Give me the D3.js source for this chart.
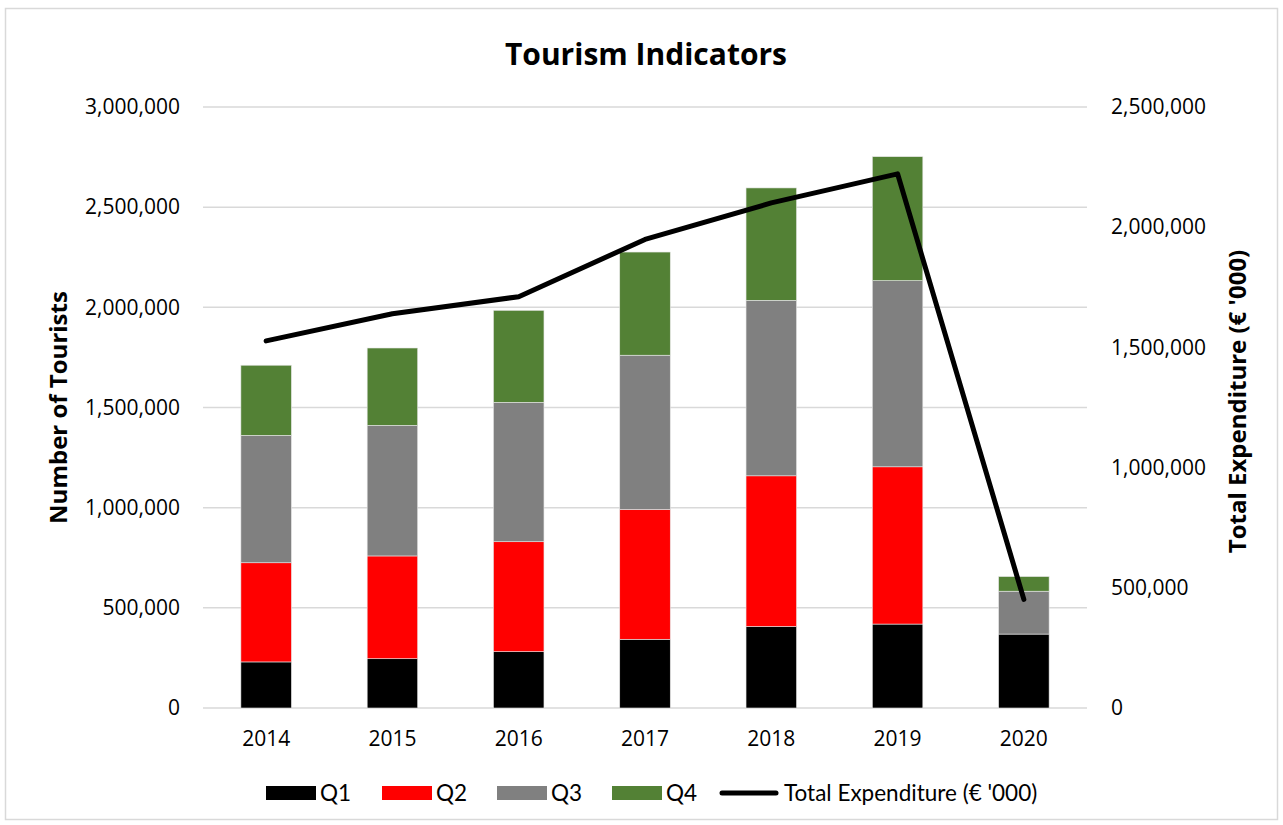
<!DOCTYPE html>
<html>
<head>
<meta charset="utf-8">
<script src="https://cdn.jsdelivr.net/npm/d3@7"></script>
<style>
  html, body { margin: 0; padding: 0; background: #fff; }
  svg { display: block; }
  text { font-family: "Open Sans", "DejaVu Sans", sans-serif; fill: #000; }
</style>
</head>
<body>
<svg id="chart" width="1283" height="825"></svg>
<script>
const years = ["2014", "2015", "2016", "2017", "2018", "2019", "2020"];
const q1 = [230000, 246000, 281000, 343000, 407000, 419000, 369000];
const q2 = [495000, 513000, 549000, 648000, 752000, 785000, 0];
const q3 = [636000, 652000, 696000, 770000, 876000, 929000, 214000];
const q4 = [350000, 386000, 459000, 515000, 561000, 619000, 73000];
const expenditure = [1527000, 1640000, 1711000, 1949000, 2101000, 2222000, 452000];
const leftTicks = [0, 500000, 1000000, 1500000, 2000000, 2500000, 3000000];
const rightTicks = [0, 500000, 1000000, 1500000, 2000000, 2500000];
const seriesNames = ["Q1", "Q2", "Q3", "Q4"];
const seriesColors = ["#000000", "#ff0000", "#808080", "#538135"];
const lineName = "Total Expenditure (€ '000)";

const svg = d3.select("#chart");
const plot = { left: 203, right: 1087, top: 107, bottom: 708 };

// chart border
svg.append("rect")
  .attr("x", 5.5).attr("y", 8.5)
  .attr("width", 1272).attr("height", 811)
  .attr("fill", "#fff").attr("stroke", "#d9d9d9").attr("stroke-width", 1.5);

const x = d3.scaleBand().domain(years)
  .range([plot.left, plot.right]).paddingInner(0.6).paddingOuter(0.3);
const yL = d3.scaleLinear().domain([0, 3000000]).range([plot.bottom, plot.top]);
const yR = d3.scaleLinear().domain([0, 2500000]).range([plot.bottom, plot.top]);
const fmt = d3.format(",");

// gridlines
svg.append("g").selectAll("line").data(leftTicks).join("line")
  .attr("x1", plot.left).attr("x2", plot.right)
  .attr("y1", d => yL(d)).attr("y2", d => yL(d))
  .attr("stroke", "#d9d9d9").attr("stroke-width", 1.5);

const tickFont = "21px";

// left axis labels
const axL = svg.append("g").attr("transform", `translate(${plot.left - 23},0)`)
  .call(d3.axisLeft(yL).tickValues(leftTicks).tickFormat(fmt).tickSize(0).tickPadding(0));
axL.select(".domain").remove();
axL.selectAll("text").style("font-size", tickFont).style("font-family", "Open Sans, sans-serif").attr("fill", "#000");

// right axis labels
const axR = svg.append("g").attr("transform", `translate(${plot.right + 24},0)`)
  .call(d3.axisRight(yR).tickValues(rightTicks).tickFormat(fmt).tickSize(0).tickPadding(0));
axR.select(".domain").remove();
axR.selectAll("text").style("font-size", tickFont).style("font-family", "Open Sans, sans-serif").attr("fill", "#000");

// x axis labels
const axX = svg.append("g").attr("transform", `translate(0,${plot.bottom + 23})`)
  .call(d3.axisBottom(x).tickSize(0).tickPadding(0));
axX.select(".domain").remove();
axX.selectAll("text").style("font-size", tickFont).style("font-family", "Open Sans, sans-serif").attr("fill", "#000");

// stacked bars
const table = years.map((yr, i) => ({ year: yr, Q1: q1[i], Q2: q2[i], Q3: q3[i], Q4: q4[i] }));
const stack = d3.stack().keys(seriesNames)(table);
svg.append("g").selectAll("g").data(stack).join("g")
  .attr("fill", (d, i) => seriesColors[i])
  .selectAll("rect").data(d => d).join("rect")
  .attr("x", d => x(d.data.year))
  .attr("width", x.bandwidth())
  .attr("y", d => yL(d[1]))
  .attr("height", d => Math.max(0, yL(d[0]) - yL(d[1])))
  .attr("stroke", "#e6e6e6").attr("stroke-width", 0.6);

// expenditure line
const line = d3.line()
  .x((d, i) => x(years[i]) + x.bandwidth() / 2)
  .y(d => yR(d));
svg.append("path").datum(expenditure)
  .attr("d", line)
  .attr("fill", "none").attr("stroke", "#000").attr("stroke-width", 5)
  .attr("stroke-linejoin", "round").attr("stroke-linecap", "round");

// title
svg.append("text").attr("x", 646).attr("y", 65)
  .attr("text-anchor", "middle")
  .style("font-size", "30px").style("font-weight", "bold")
  .text("Tourism Indicators");

// axis titles
svg.append("text")
  .attr("transform", `translate(67,${(plot.top + plot.bottom) / 2}) rotate(-90)`)
  .attr("text-anchor", "middle")
  .style("font-size", "24px").style("font-weight", "bold")
  .text("Number of Tourists");
svg.append("text")
  .attr("transform", `translate(1246,${(plot.top + plot.bottom) / 2 - 6}) rotate(-90)`)
  .attr("text-anchor", "middle")
  .style("font-size", "24px").style("font-weight", "bold")
  .text(lineName);

// legend
const legY = 793;
const legend = svg.append("g");
const legItems = [
  { name: "Q1", type: "rect", color: seriesColors[0], x: 266 },
  { name: "Q2", type: "rect", color: seriesColors[1], x: 382 },
  { name: "Q3", type: "rect", color: seriesColors[2], x: 497 },
  { name: "Q4", type: "rect", color: seriesColors[3], x: 612 },
  { name: lineName, type: "line", color: "#000", x: 722 }
];
legItems.forEach(it => {
  if (it.type === "rect") {
    legend.append("rect").attr("x", it.x).attr("y", legY - 7)
      .attr("width", 50).attr("height", 14).attr("fill", it.color);
    legend.append("text").attr("x", it.x + 54).attr("y", legY).attr("dy", "0.35em")
      .style("font-family", "Lato, sans-serif").style("font-size", "22.5px").text(it.name);
  } else {
    legend.append("line").attr("x1", it.x).attr("x2", it.x + 54)
      .attr("y1", legY).attr("y2", legY)
      .attr("stroke", it.color).attr("stroke-width", 5).attr("stroke-linecap", "round");
    legend.append("text").attr("x", it.x + 62).attr("y", legY).attr("dy", "0.35em")
      .style("font-family", "Lato, sans-serif").style("font-size", "22.5px").text(it.name);
  }
});
</script>
</body>
</html>
